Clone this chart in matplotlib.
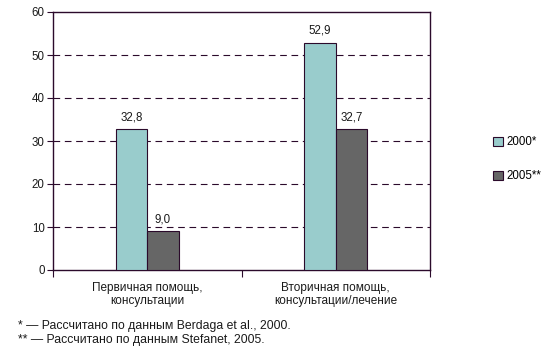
import matplotlib
matplotlib.use("Agg")
import matplotlib.pyplot as plt
import numpy as np

plt.rcParams['font.family'] = ['Liberation Sans', 'DejaVu Sans']

categories = ["Первичная помощь,\nконсультации", "Вторичная помощь,\nконсультации/лечение"]
series_names = ["2000*", "2005**"]
values_2000 = [32.8, 52.9]
values_2005 = [9.0, 32.7]
yticks = [0, 10, 20, 30, 40, 50, 60]
footnotes = ["* — Рассчитано по данным Berdaga et al., 2000.",
             "** — Рассчитано по данным Stefanet, 2005."]

W, H = 555, 351
fig = plt.figure(figsize=(W/100, H/100), dpi=100)
ax = fig.add_axes([53/W, 1-270/H, (430-53)/W, (270-12)/H])

axc = '#2b0a2b'
txc = '#1a1a1a'
colors = ['#99cccc', '#666666']
x = np.arange(len(categories))
bw = 0.167
b1 = ax.bar(x - bw/2, values_2000, bw, color=colors[0], edgecolor=axc, linewidth=0.8, label=series_names[0], zorder=3)
b2 = ax.bar(x + bw/2, values_2005, bw, color=colors[1], edgecolor=axc, linewidth=0.8, label=series_names[1], zorder=3)

def fmt(v):
    return f"{v:.1f}".replace('.', ',')
for bars, vals in ((b1, values_2000), (b2, values_2005)):
    for r, v in zip(bars, vals):
        ax.annotate(fmt(v), (r.get_x() + r.get_width()/2, v), xytext=(0, 4),
                    textcoords='offset points', ha='center', va='bottom', fontsize=8.3, color=txc)

ax.set_xlim(-0.5, 1.5)
ax.set_ylim(0, 60)
ax.set_yticks(yticks)
ax.set_yticklabels([str(t) for t in yticks], fontsize=8.3, color=txc)
ax.set_xticks([-0.5, 0.5, 1.5])
ax.set_xticklabels([])
ax.tick_params(axis='x', length=5, direction='out', color=axc, width=0.8)
ax.tick_params(axis='y', length=4, direction='out', color=axc, width=0.8, pad=2)
for t in yticks[1:-1]:
    ax.axhline(t, color=axc, linestyle=(0, (6, 4.2)), linewidth=0.8, zorder=1)
for s in ax.spines.values():
    s.set_color(axc)
    s.set_linewidth(1.0)

for i, c in enumerate(categories):
    ax.text(x[i], -0.045, c, transform=ax.get_xaxis_transform(), ha='center', va='top',
            fontsize=8.5, color=txc, linespacing=1.15)

leg = fig.legend(handles=[b1, b2], labels=series_names, loc='upper left',
                 bbox_to_anchor=(483/W, 1-126/H), frameon=False, fontsize=8.3,
                 handlelength=0.8, handleheight=0.8, handletextpad=0.3, labelspacing=1.9)

fig.text(18/W, 1-326/H, footnotes[0], fontsize=8.8, va='center', ha='left', color=txc)
fig.text(18/W, 1-340/H, footnotes[1], fontsize=8.8, va='center', ha='left', color=txc)

fig.savefig("out.png", dpi=100)
